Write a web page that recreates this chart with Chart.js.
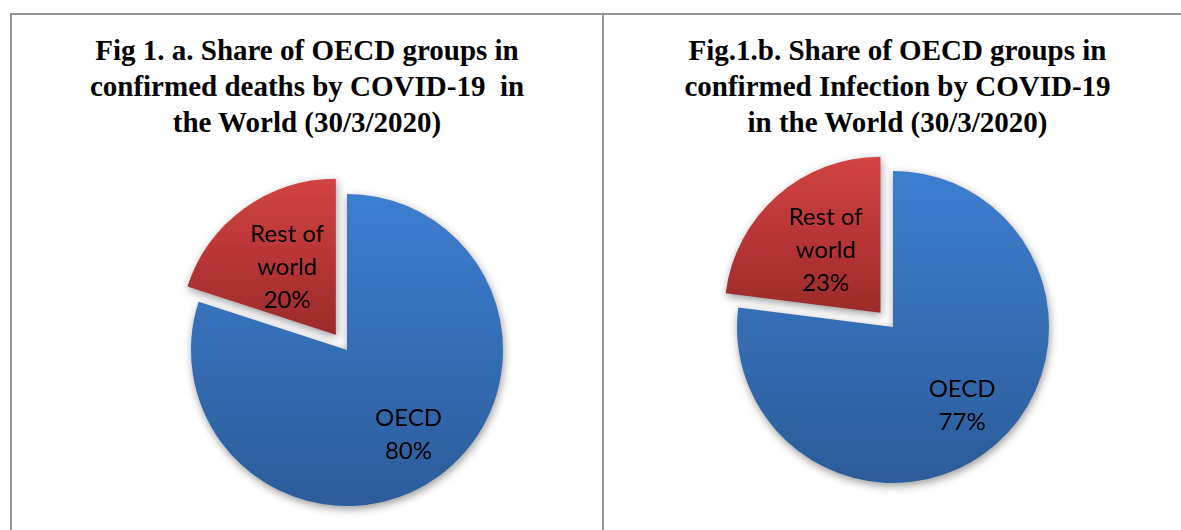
<!DOCTYPE html>
<html>
<head>
<meta charset="utf-8">
<script src="https://cdn.jsdelivr.net/npm/chart.js@4/dist/chart.umd.min.js"></script>
<style>
  body { margin: 0; background: #fff; width: 1181px; height: 530px; overflow: hidden; position: relative; }
  .frame-top { position: absolute; left: 10px; top: 13px; width: 1181px; height: 2px; background: #959595; }
  .frame-left { position: absolute; left: 10px; top: 13px; width: 2px; height: 530px; background: #959595; }
  .frame-mid { position: absolute; left: 602px; top: 13px; width: 2px; height: 530px; background: #959595; }
  .title {
    position: absolute; top: 32px; text-align: center;
    font: bold 29px "Liberation Serif", "Times New Roman", serif;
    line-height: 36px; color: #000; white-space: nowrap;
  }
  canvas { position: absolute; }
</style>
</head>
<body>
<div class="frame-top"></div>
<div class="frame-left"></div>
<div class="frame-mid"></div>
<div class="title" id="titleA" style="left:12px; width:590px;"></div>
<div class="title" id="titleB" style="left:604px; width:587px;"></div>
<canvas id="pieA" width="360" height="360" style="left:167px; top:170px;"></canvas>
<canvas id="pieB" width="360" height="360" style="left:713px; top:147px;"></canvas>
<script>
const categories = ['OECD', 'Rest of world'];
const labelLines = [['OECD'], ['Rest of', 'world']];
const deathsShare = [80, 20];
const infectionShare = [77, 23];
const titleA = ['Fig 1. a. Share of OECD groups in', 'confirmed deaths by COVID-19\u00a0\u00a0in', 'the World (30/3/2020)'];
const titleB = ['Fig.1.b. Share of OECD groups in', 'confirmed Infection by COVID-19', 'in the World (30/3/2020)'];

document.getElementById('titleA').innerHTML = titleA.join('<br>');
document.getElementById('titleB').innerHTML = titleB.join('<br>');

const RADIUS = 156;
const EXPLODE = [0, 19];   // pull-out distance of each slice, px

// vertical gradient per slice, light on top, darker toward bottom
function sliceFill(ctx) {
    const chart = ctx.chart;
    const area = chart.chartArea;
    const isRest = ctx.dataIndex === 1;
    if (!area) return isRest ? '#c03a3a' : '#3a74bd';
    const cy = (area.top + area.bottom) / 2;
    const g = isRest
        ? chart.ctx.createLinearGradient(0, cy - RADIUS, 0, cy)
        : chart.ctx.createLinearGradient(0, cy - RADIUS, 0, cy + RADIUS);
    if (isRest) {
        g.addColorStop(0, '#d44242');
        g.addColorStop(1, '#9c2a2a');
    } else {
        g.addColorStop(0, '#3d7ecf');
        g.addColorStop(1, '#2c5c99');
    }
    return g;
}

// draws the arcs with a soft drop shadow and the pulled-out slice
const explodedPie = {
    id: 'explodedPie',
    beforeDatasetsDraw(chart) {
        const c = chart.ctx;
        const meta = chart.getDatasetMeta(0);
        c.save();
        c.shadowColor = 'rgba(0,0,0,0.4)';
        c.shadowBlur = 8;
        c.shadowOffsetX = 1;
        c.shadowOffsetY = 3;
        meta.data.forEach((arc, i) => {
            const mid = (arc.startAngle + arc.endAngle) / 2;
            c.save();
            c.translate(Math.cos(mid) * EXPLODE[i], Math.sin(mid) * EXPLODE[i]);
            arc.draw(c);
            c.restore();
        });
        c.restore();
        return false;
    },
    afterDraw(chart) {
        const c = chart.ctx;
        const meta = chart.getDatasetMeta(0);
        const values = chart.data.datasets[0].data;
        c.save();
        c.font = '24px Lato, "Open Sans", sans-serif';
        c.fillStyle = '#000';
        c.textAlign = 'center';
        c.textBaseline = 'middle';
        meta.data.forEach((arc, i) => {
            const mid = (arc.startAngle + arc.endAngle) / 2;
            const dist = EXPLODE[i] + (i === 1 ? 0.53 : 0.67) * arc.outerRadius;
            const x = arc.x + Math.cos(mid) * dist;
            const y = arc.y + Math.sin(mid) * dist;
            const lines = labelLines[i].concat([values[i] + '%']);
            const lh = 33;
            lines.forEach((t, k) => {
                c.fillText(t, x, y + (k - (lines.length - 1) / 2) * lh);
            });
        });
        c.restore();
    }
};

function makePie(id, values) {
    return new Chart(document.getElementById(id), {
        type: 'pie',
        data: {
            labels: categories,
            datasets: [{
                data: values,
                backgroundColor: sliceFill,
                borderWidth: 0
            }]
        },
        options: {
            responsive: false,
            animation: false,
            radius: RADIUS,
            layout: { padding: 0 },
            plugins: {
                legend: { display: false },
                tooltip: { enabled: false }
            }
        },
        plugins: [explodedPie]
    });
}

makePie('pieA', deathsShare);
makePie('pieB', infectionShare);
</script>
</body>
</html>
